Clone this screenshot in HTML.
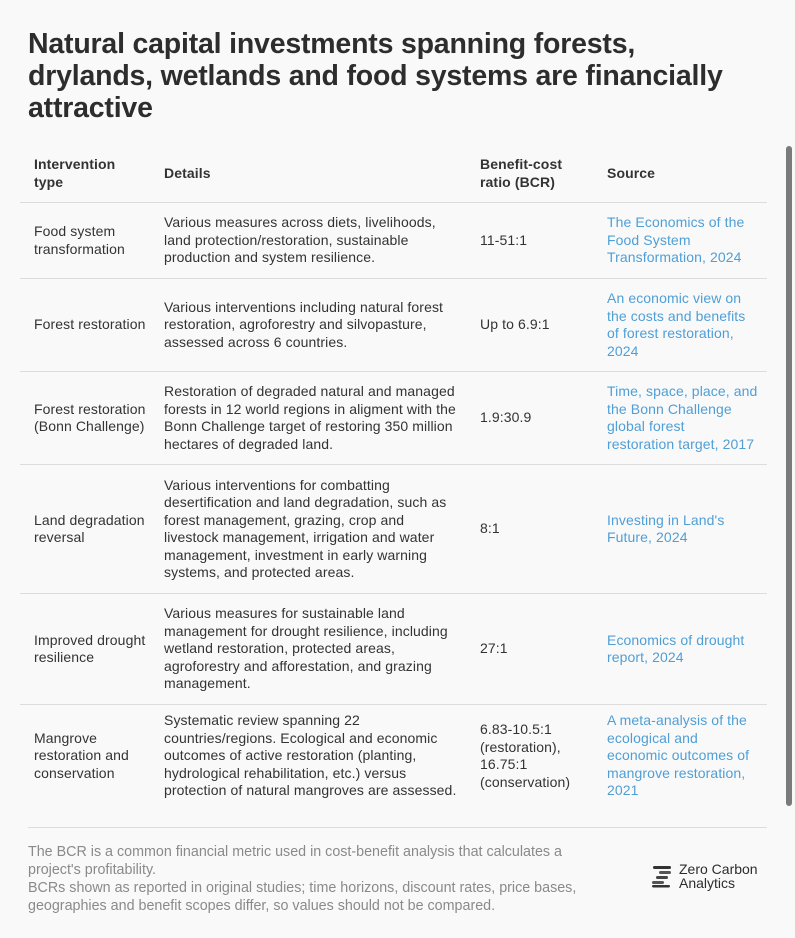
<!DOCTYPE html>
<html><head><meta charset="utf-8"><style>
body{margin:0;width:795px;height:938px;background:#f9f9f9;font-family:"Liberation Sans",sans-serif;color:#333;position:relative;overflow:hidden}
h1{position:absolute;left:28px;top:28px;margin:0;font-size:28.5px;line-height:32px;font-weight:bold;color:#2d2d2d;letter-spacing:-0.2px}
.row{position:absolute;left:20px;width:747px;display:flex;align-items:center;border-bottom:1px solid #dcdcdc;font-size:14px;line-height:17.5px;letter-spacing:0.1px}
.row div{position:absolute;white-space:nowrap}
.c1{left:14px}.c2{left:144px}.c3{left:460px}.c4{left:587px;color:#4f9fd6}
.hd{font-weight:bold;color:#333}
.sb{position:absolute;left:786px;top:146px;width:6px;height:660px;border-radius:3px;background:#7b7b7b}
.foot{position:absolute;left:28px;top:843px;font-size:14.3px;line-height:18px;color:#8a8a8a}
</style></head><body>
<h1>Natural capital investments spanning forests,<br>drylands, wetlands and food systems are financially<br>attractive</h1>

<div class="row hd" style="top:145px;height:57px">
<div class="c1">Intervention<br>type</div><div class="c2">Details</div><div class="c3">Benefit-cost<br>ratio (BCR)</div><div class="c4" style="color:#333">Source</div></div>

<div class="row" style="top:203px;height:75px">
<div class="c1">Food system<br>transformation</div><div class="c2">Various measures across diets, livelihoods,<br>land protection/restoration, sustainable<br>production and system resilience.</div><div class="c3">11-51:1</div><div class="c4">The Economics of the<br>Food System<br>Transformation, 2024</div></div>

<div class="row" style="top:279px;height:92px">
<div class="c1">Forest restoration</div><div class="c2">Various interventions including natural forest<br>restoration, agroforestry and silvopasture,<br>assessed across 6 countries.</div><div class="c3">Up to 6.9:1</div><div class="c4">An economic view on<br>the costs and benefits<br>of forest restoration,<br>2024</div></div>

<div class="row" style="top:372px;height:92px">
<div class="c1">Forest restoration<br>(Bonn Challenge)</div><div class="c2">Restoration of degraded natural and managed<br>forests in 12 world regions in aligment with the<br>Bonn Challenge target of restoring 350 million<br>hectares of degraded land.</div><div class="c3">1.9:30.9</div><div class="c4">Time, space, place, and<br>the Bonn Challenge<br>global forest<br>restoration target, 2017</div></div>

<div class="row" style="top:465px;height:128px">
<div class="c1">Land degradation<br>reversal</div><div class="c2">Various interventions for combatting<br>desertification and land degradation, such as<br>forest management, grazing, crop and<br>livestock management, irrigation and water<br>management, investment in early warning<br>systems, and protected areas.</div><div class="c3">8:1</div><div class="c4">Investing in Land's<br>Future, 2024</div></div>

<div class="row" style="top:594px;height:110px">
<div class="c1">Improved drought<br>resilience</div><div class="c2">Various measures for sustainable land<br>management for drought resilience, including<br>wetland restoration, protected areas,<br>agroforestry and afforestation, and grazing<br>management.</div><div class="c3">27:1</div><div class="c4">Economics of drought<br>report, 2024</div></div>

<div class="row" style="top:705px;height:102px;border-bottom:none">
<div class="c1">Mangrove<br>restoration and<br>conservation</div><div class="c2">Systematic review spanning 22<br>countries/regions. Ecological and economic<br>outcomes of active restoration (planting,<br>hydrological rehabilitation, etc.) versus<br>protection of natural mangroves are assessed.</div><div class="c3">6.83-10.5:1<br>(restoration),<br>16.75:1<br>(conservation)</div><div class="c4">A meta-analysis of the<br>ecological and<br>economic outcomes of<br>mangrove restoration,<br>2021</div></div>

<div class="sb"></div>
<div style="position:absolute;left:28px;top:827px;width:739px;height:1px;background:#dcdcdc"></div>
<div class="foot">The BCR is a common financial metric used in cost-benefit analysis that calculates a<br>project's profitability.<br>BCRs shown as reported in original studies; time horizons, discount rates, price bases,<br>geographies and benefit scopes differ, so values should not be compared.</div>

<svg style="position:absolute;left:650px;top:864px" width="24" height="24" viewBox="0 0 24 24">
<rect x="3" y="2" width="18" height="3" rx="1.5" fill="#333"/><rect x="9" y="7" width="12" height="3" rx="1.5" fill="#555"/><rect x="6" y="12" width="12" height="3" rx="1.5" fill="#444"/><rect x="2" y="17" width="12" height="3" rx="1.5" fill="#555"/><rect x="2" y="21" width="18" height="2.5" rx="1.2" fill="#333"/>
</svg>
<div style="position:absolute;left:679px;top:862px;font-size:14px;line-height:14px;color:#2d2d2d">Zero Carbon<br>Analytics</div>
</body></html>
